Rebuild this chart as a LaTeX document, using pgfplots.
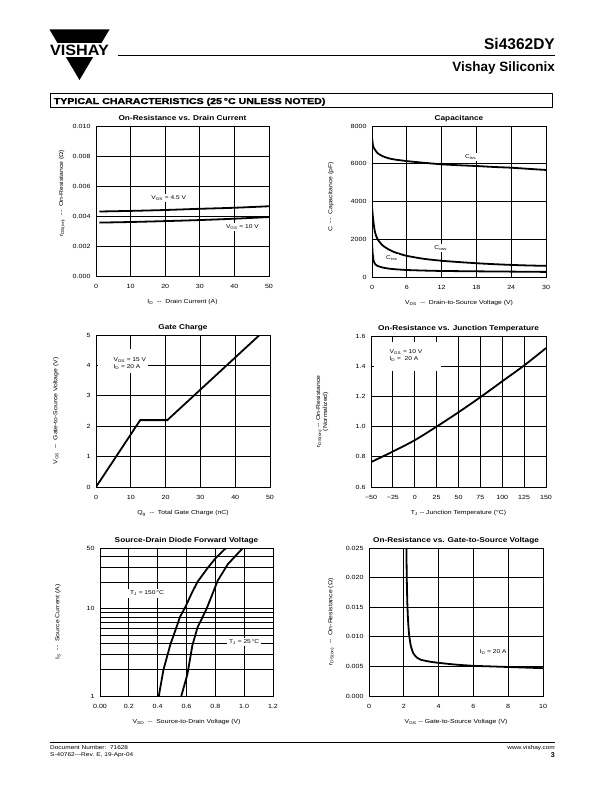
\documentclass[border=0pt]{standalone}
\usepackage{pgfplots}
\pgfplotsset{compat=1.18}
\usepackage{fontspec}
\setmainfont{Liberation Sans}
\newfontfamily\cf{Liberation Sans}[FakeStretch=1.18]
\newfontfamily\heavy{Liberation Sans Bold}[FakeBold=1.5]
\newcommand{\sub}[1]{\textsubscript{#1}}
\newcommand{\af}{\cf\fontsize{5.6}{6.5}\selectfont}
\pgfplotsset{ds/.style={
  scale only axis, anchor=north west,
  axis line style={line width=0.9pt},
  grid=major, major grid style={line width=0.8pt, black},
  minor grid style={line width=0.8pt, black},
  major tick length=0pt, minor tick length=0pt,
  tick label style={font=\cf\fontsize{6}{7}\selectfont},
  xticklabel style={yshift=-5pt},
  yticklabel style={xshift=-2pt},
  /pgf/number format/assume math mode=true,
  /pgf/number format/1000 sep={},
  scaled ticks=false,
  title style={font=\cf\bfseries\fontsize{7}{8}\selectfont, at={(0.5,1)}, anchor=base, yshift=-0.5pt},
  label style={font=\cf\fontsize{5.8}{7}\selectfont},
  xlabel style={at={(axis description cs:0.5,0)}, anchor=center, yshift=-26pt},
  ylabel style={anchor=center},
}}
\begin{document}
\begin{tikzpicture}
\path[use as bounding box] (0,0) rectangle (612pt,-792pt);
\begin{scope}[x=1pt,y=-1pt]
 % logo
 \fill (49.5,29.5) -- (109.5,29.5) -- (79.5,80) -- cycle;
 \fill[white] (44,43) rectangle (115,57.5);
 \node[font=\fontsize{15}{15}\selectfont\bfseries, xscale=1.08, inner sep=0] at (79.5,50.3) {VISHAY};
 \draw[line width=0.9pt] (118,55) -- (555,55);
 \node[anchor=base east, font=\fontsize{15.5}{16}\selectfont\bfseries, inner sep=0] at (555,50) {Si4362DY};
 \node[anchor=base east, font=\fontsize{13.5}{14}\selectfont\bfseries, inner sep=0] at (555,71.5) {Vishay Siliconix};
 \draw[line width=0.9pt] (50.5,93.5) rectangle (552,107.5);
 \node[anchor=base west, font=\heavy\fontsize{8.5}{9}\selectfont, xscale=1.25, inner sep=0] at (53.5,104) {TYPICAL CHARACTERISTICS (25\,°C UNLESS NOTED)};
 % footer
 \draw[line width=0.8pt] (50,742) -- (555,742);
 \node[anchor=base west, font=\cf\fontsize{5.5}{6}\selectfont, inner sep=0] at (50,749.5) {Document Number:~~71628};
 \node[anchor=base west, font=\cf\fontsize{5.5}{6}\selectfont, inner sep=0] at (50,756) {S-40762---Rev. E, 19-Apr-04};
 \node[anchor=base east, font=\cf\fontsize{5.5}{6}\selectfont, inner sep=0] at (555,749.5) {www.vishay.com};
 \node[anchor=base east, font=\bfseries\fontsize{7}{7}\selectfont, inner sep=0] at (555,757) {3};
\end{scope}

% Chart 1
\begin{axis}[ds, at={(96pt,-126pt)}, width=173pt, height=150pt,
 xmin=0, xmax=50, ymin=0, ymax=0.010,
 xtick={0,10,20,30,40,50}, ytick={0,0.002,0.004,0.006,0.008,0.010},
 yticklabel style={/pgf/number format/fixed, /pgf/number format/fixed zerofill, /pgf/number format/precision=3},
 title={On-Resistance vs. Drain Current},
 xlabel={I\sub{D}~~--~~Drain Current (A)},
 ylabel={r\sub{DS(on)}~~--~~On-Resistance (Ω)},
 ylabel style={at={(axis description cs:-0.197,0.55)}}]
\addplot[black, line width=1.8pt, smooth] coordinates {(1,0.00430) (10,0.00434) (20,0.00440) (30,0.00448) (40,0.00455) (50,0.00465)};
\addplot[black, line width=1.8pt, smooth] coordinates {(1,0.00356) (10,0.00360) (20,0.00366) (30,0.00373) (40,0.00382) (50,0.00393)};
\node[fill=white, inner sep=1.5pt, font=\af] at (axis cs:21,0.0052) {V\sub{GS} = 4.5 V};
\node[fill=white, inner sep=1.5pt, font=\af] at (axis cs:42.3,0.00325) {V\sub{GS} = 10 V};
\end{axis}

% Chart 2
\begin{axis}[ds, at={(372pt,-126pt)}, width=174pt, height=151pt,
 xmin=0, xmax=30, ymin=0, ymax=8000,
 xtick={0,6,12,18,24,30}, ytick={0,2000,4000,6000,8000},
 title={Capacitance},
 xlabel={V\sub{DS}~~--~~Drain-to-Source Voltage (V)},
 ylabel={C~~--~~Capacitance (pF)},
 ylabel style={at={(axis description cs:-0.236,0.53)}}]
\addplot[black, line width=1.8pt, smooth, tension=0.4] coordinates {(0,7420) (0.15,7000) (0.3,6850) (0.5,6750) (1,6550) (2,6380) (3,6280) (4,6220) (6,6140) (9,6050) (12,5970) (15,5920) (18,5880) (21,5830) (24,5790) (27,5730) (30,5670)};
\addplot[black, line width=1.8pt, smooth, tension=0.4] coordinates {(0,3700) (0.15,3200) (0.3,2800) (0.5,2400) (0.75,2150) (1,1980) (1.5,1780) (2,1630) (3,1440) (4,1300) (6,1120) (9,960) (12,860) (15,790) (18,730) (21,680) (24,640) (27,610) (30,590)};
\addplot[black, line width=1.8pt, smooth, tension=0.4] coordinates {(0,1900) (0.1,1300) (0.25,900) (0.5,700) (1,580) (2,490) (3,440) (4,410) (6,370) (9,340) (12,320) (18,300) (24,285) (30,270)};
\node[fill=white, inner sep=1.5pt, font=\af] at (axis cs:17,6333) {C\sub{iss}};
\node[fill=white, inner sep=1.5pt, font=\af] at (axis cs:11.85,1544) {C\sub{oss}};
\node[fill=white, inner sep=1.5pt, font=\af] at (axis cs:3.4,982) {C\sub{rss}};
\end{axis}

% Chart 3
\begin{axis}[ds, at={(96pt,-335pt)}, width=174pt, height=152pt,
 xmin=0, xmax=50, ymin=0, ymax=5,
 xtick={0,10,20,30,40,50}, ytick={0,1,2,3,4,5},
 title={Gate Charge},
 xlabel={Q\sub{g}~~--~~Total Gate Charge (nC)},
 ylabel={V\sub{GS}~~--~~Gate-to-Source Voltage (V)},
 ylabel style={at={(axis description cs:-0.23,0.5)}}]
\fill[white] (axis cs:0.6,3.75) rectangle (axis cs:15,4.55);
\addplot[black, line width=1.8pt] coordinates {(0,0) (12.7,2.2) (20.5,2.2) (47,5)};
\node[anchor=west, inner sep=0pt, font=\af] at (axis cs:5,4.17) {V\sub{DS} = 15 V};
\node[anchor=west, inner sep=0pt, font=\af] at (axis cs:5,3.95) {I\sub{D} = 20 A};
\end{axis}

% Chart 4
\begin{axis}[ds, at={(371pt,-336pt)}, width=175pt, height=151pt,
 xmin=-50, xmax=150, ymin=0.6, ymax=1.6,
 xtick={-50,-25,0,25,50,75,100,125,150},
 xticklabels={−50,−25,0,25,50,75,100,125,150},
 ytick={0.6,0.8,1.0,1.2,1.4,1.6},
 yticklabel style={/pgf/number format/fixed, /pgf/number format/fixed zerofill, /pgf/number format/precision=1},
 title={On-Resistance vs. Junction Temperature},
 xlabel={T\sub{J}~--~Junction Temperature (°C)},
 ylabel={r\sub{DS(on)}~--~On-Resistance\\(Normalized)},
 ylabel style={align=center, at={(axis description cs:-0.28,0.5)}}]
\fill[white] (axis cs:-47,1.37) rectangle (axis cs:30,1.56);
\addplot[black, line width=1.8pt, smooth] coordinates {(-50,0.765) (-25,0.835) (0,0.91) (25,1.0) (50,1.095) (75,1.195) (100,1.30) (125,1.405) (150,1.52)};
\node[anchor=west, inner sep=0pt, font=\af] at (axis cs:-29,1.494) {V\sub{GS} = 10 V};
\node[anchor=west, inner sep=0pt, font=\af] at (axis cs:-29,1.45) {I\sub{D} =~~20 A};
\end{axis}

% Chart 5
\begin{axis}[ds, at={(100pt,-548pt)}, width=173pt, height=148pt,
 ymode=log, log basis y=10,
 xmin=0, xmax=1.2, ymin=1, ymax=50,
 xtick={0,0.2,0.4,0.6,0.8,1.0,1.2},
 xticklabels={0.00,0.2,0.4,0.6,0.8,1.0,1.2},
 ytick={1,10,50}, yticklabels={1,10,50},
 minor ytick={2,3,4,5,6,7,8,9,20,30,40},
 grid=both,
 title={Source-Drain Diode Forward Voltage},
 xlabel={V\sub{SD}~~--~~Source-to-Drain Voltage (V)},
 ylabel={I\sub{S}~~--~~Source Current (A)},
 ylabel style={at={(axis description cs:-0.243,0.5)}}]
\addplot[black, line width=1.8pt] coordinates {(0.408,1) (0.44,2) (0.49,4) (0.52,5.5) (0.555,8.1) (0.594,10.7) (0.635,15) (0.676,20.4) (0.746,29.4) (0.804,38.6) (0.874,50)};
\addplot[black, line width=1.8pt] coordinates {(0.564,1) (0.606,1.77) (0.641,3.83) (0.676,6.1) (0.739,10) (0.816,21) (0.886,32.5) (0.991,50)};
\node[fill=white, inner sep=2pt, font=\af] at (axis cs:0.326,15.1) {T\sub{J} = 150\,°C};
\node[fill=white, inner sep=2pt, font=\af] at (axis cs:1.0,4.17) {T\sub{J} = 25\,°C};
\end{axis}

% Chart 6
\begin{axis}[ds, at={(369pt,-548pt)}, width=174pt, height=148pt,
 xmin=0, xmax=10, ymin=0, ymax=0.025,
 xtick={0,2,4,6,8,10}, ytick={0,0.005,0.010,0.015,0.020,0.025},
 yticklabel style={/pgf/number format/fixed, /pgf/number format/fixed zerofill, /pgf/number format/precision=3},
 title={On-Resistance vs. Gate-to-Source Voltage},
 xlabel={V\sub{GS}~--~Gate-to-Source Voltage (V)},
 ylabel={r\sub{DS(on)}~~--~~On-Resistance (Ω)},
 ylabel style={at={(axis description cs:-0.218,0.5)}}]
\addplot[black, line width=1.8pt, smooth, tension=0.3] coordinates {(2.15,0.025) (2.17,0.020) (2.2,0.016) (2.24,0.013) (2.3,0.0105) (2.4,0.0085) (2.55,0.0072) (2.75,0.0065) (3.0,0.0061) (3.5,0.0058) (4,0.0056) (5,0.0053) (6,0.0051) (7,0.0050) (8,0.0049) (9,0.0048) (10,0.0047)};
\node[fill=white, inner sep=2pt, font=\af] at (axis cs:7.13,0.0075) {I\sub{D} = 20 A};
\end{axis}
\end{tikzpicture}
\end{document}
